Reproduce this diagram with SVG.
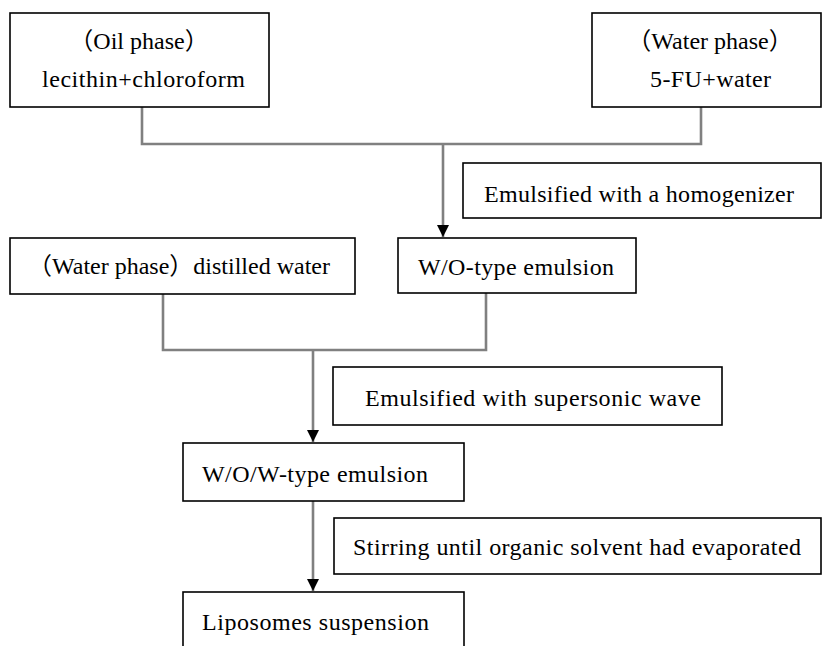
<svg xmlns="http://www.w3.org/2000/svg" width="822" height="646" viewBox="0 0 822 646">
<defs>
<style>
.box{fill:#fff;stroke:#000;stroke-width:1.6}
.t{font-family:'Liberation Serif','Times New Roman',serif;font-size:24px;fill:#000}
.cj{font-family:'Noto Sans CJK SC',sans-serif}
.c{text-anchor:middle}
.ln{fill:none;stroke:#808080;stroke-width:2.6}
</style>
<marker id="ah" markerUnits="userSpaceOnUse" markerWidth="12" markerHeight="14" refX="12" refY="6" orient="auto" viewBox="0 0 12 12">
<path d="M0,0 L12,6 L0,12 Z" fill="#000"/>
</marker>
</defs>
<rect width="822" height="646" fill="#fff"/>
<g id="connectors">
<path class="ln" d="M142,107 V144 H701 V107"/>
<path class="ln" d="M443,144 V237" marker-end="url(#ah)"/>
<path class="ln" d="M163,294 V350 H486 V293"/>
<path class="ln" d="M313,350 V442" marker-end="url(#ah)"/>
<path class="ln" d="M313,501 V591" marker-end="url(#ah)"/>
</g>
<g id="oil-phase">
<rect class="box" x="10" y="13" width="259" height="94"/>
<text class="t c" x="139" y="49"><tspan class="cj">（</tspan>Oil phase<tspan class="cj">）</tspan></text>
<text class="t" x="42" y="87" textLength="203" lengthAdjust="spacing">lecithin+chloroform</text>
</g>
<g id="water-phase-1">
<rect class="box" x="592" y="13" width="229" height="94"/>
<text class="t c" x="710" y="49"><tspan class="cj">（</tspan>Water phase<tspan class="cj">）</tspan></text>
<text class="t" x="650" y="87" textLength="121" lengthAdjust="spacing">5-FU+water</text>
</g>
<g id="step-homogenizer">
<rect class="box" x="463" y="163" width="358" height="55"/>
<text class="t" x="484" y="202" textLength="310" lengthAdjust="spacing">Emulsified with a homogenizer</text>
</g>
<g id="water-phase-2">
<rect class="box" x="10" y="238" width="345" height="56"/>
<text class="t" x="28" y="274"><tspan class="cj">（</tspan>Water phase<tspan class="cj">）</tspan>distilled water</text>
</g>
<g id="wo-emulsion">
<rect class="box" x="398" y="238" width="238" height="55"/>
<text class="t" x="418" y="275" textLength="196" lengthAdjust="spacing">W/O-type emulsion</text>
</g>
<g id="step-supersonic">
<rect class="box" x="333" y="367" width="389" height="58"/>
<text class="t" x="365" y="406" textLength="336" lengthAdjust="spacing">Emulsified with supersonic wave</text>
</g>
<g id="wow-emulsion">
<rect class="box" x="183" y="443" width="281" height="58"/>
<text class="t" x="202" y="482" textLength="226" lengthAdjust="spacing">W/O/W-type emulsion</text>
</g>
<g id="step-stirring">
<rect class="box" x="334" y="518" width="487" height="56"/>
<text class="t" x="353" y="555" textLength="448" lengthAdjust="spacing">Stirring until organic solvent had evaporated</text>
</g>
<g id="liposomes">
<rect class="box" x="183" y="592" width="281" height="70"/>
<text class="t" x="202" y="630" textLength="227" lengthAdjust="spacing">Liposomes suspension</text>
</g>
</svg>
